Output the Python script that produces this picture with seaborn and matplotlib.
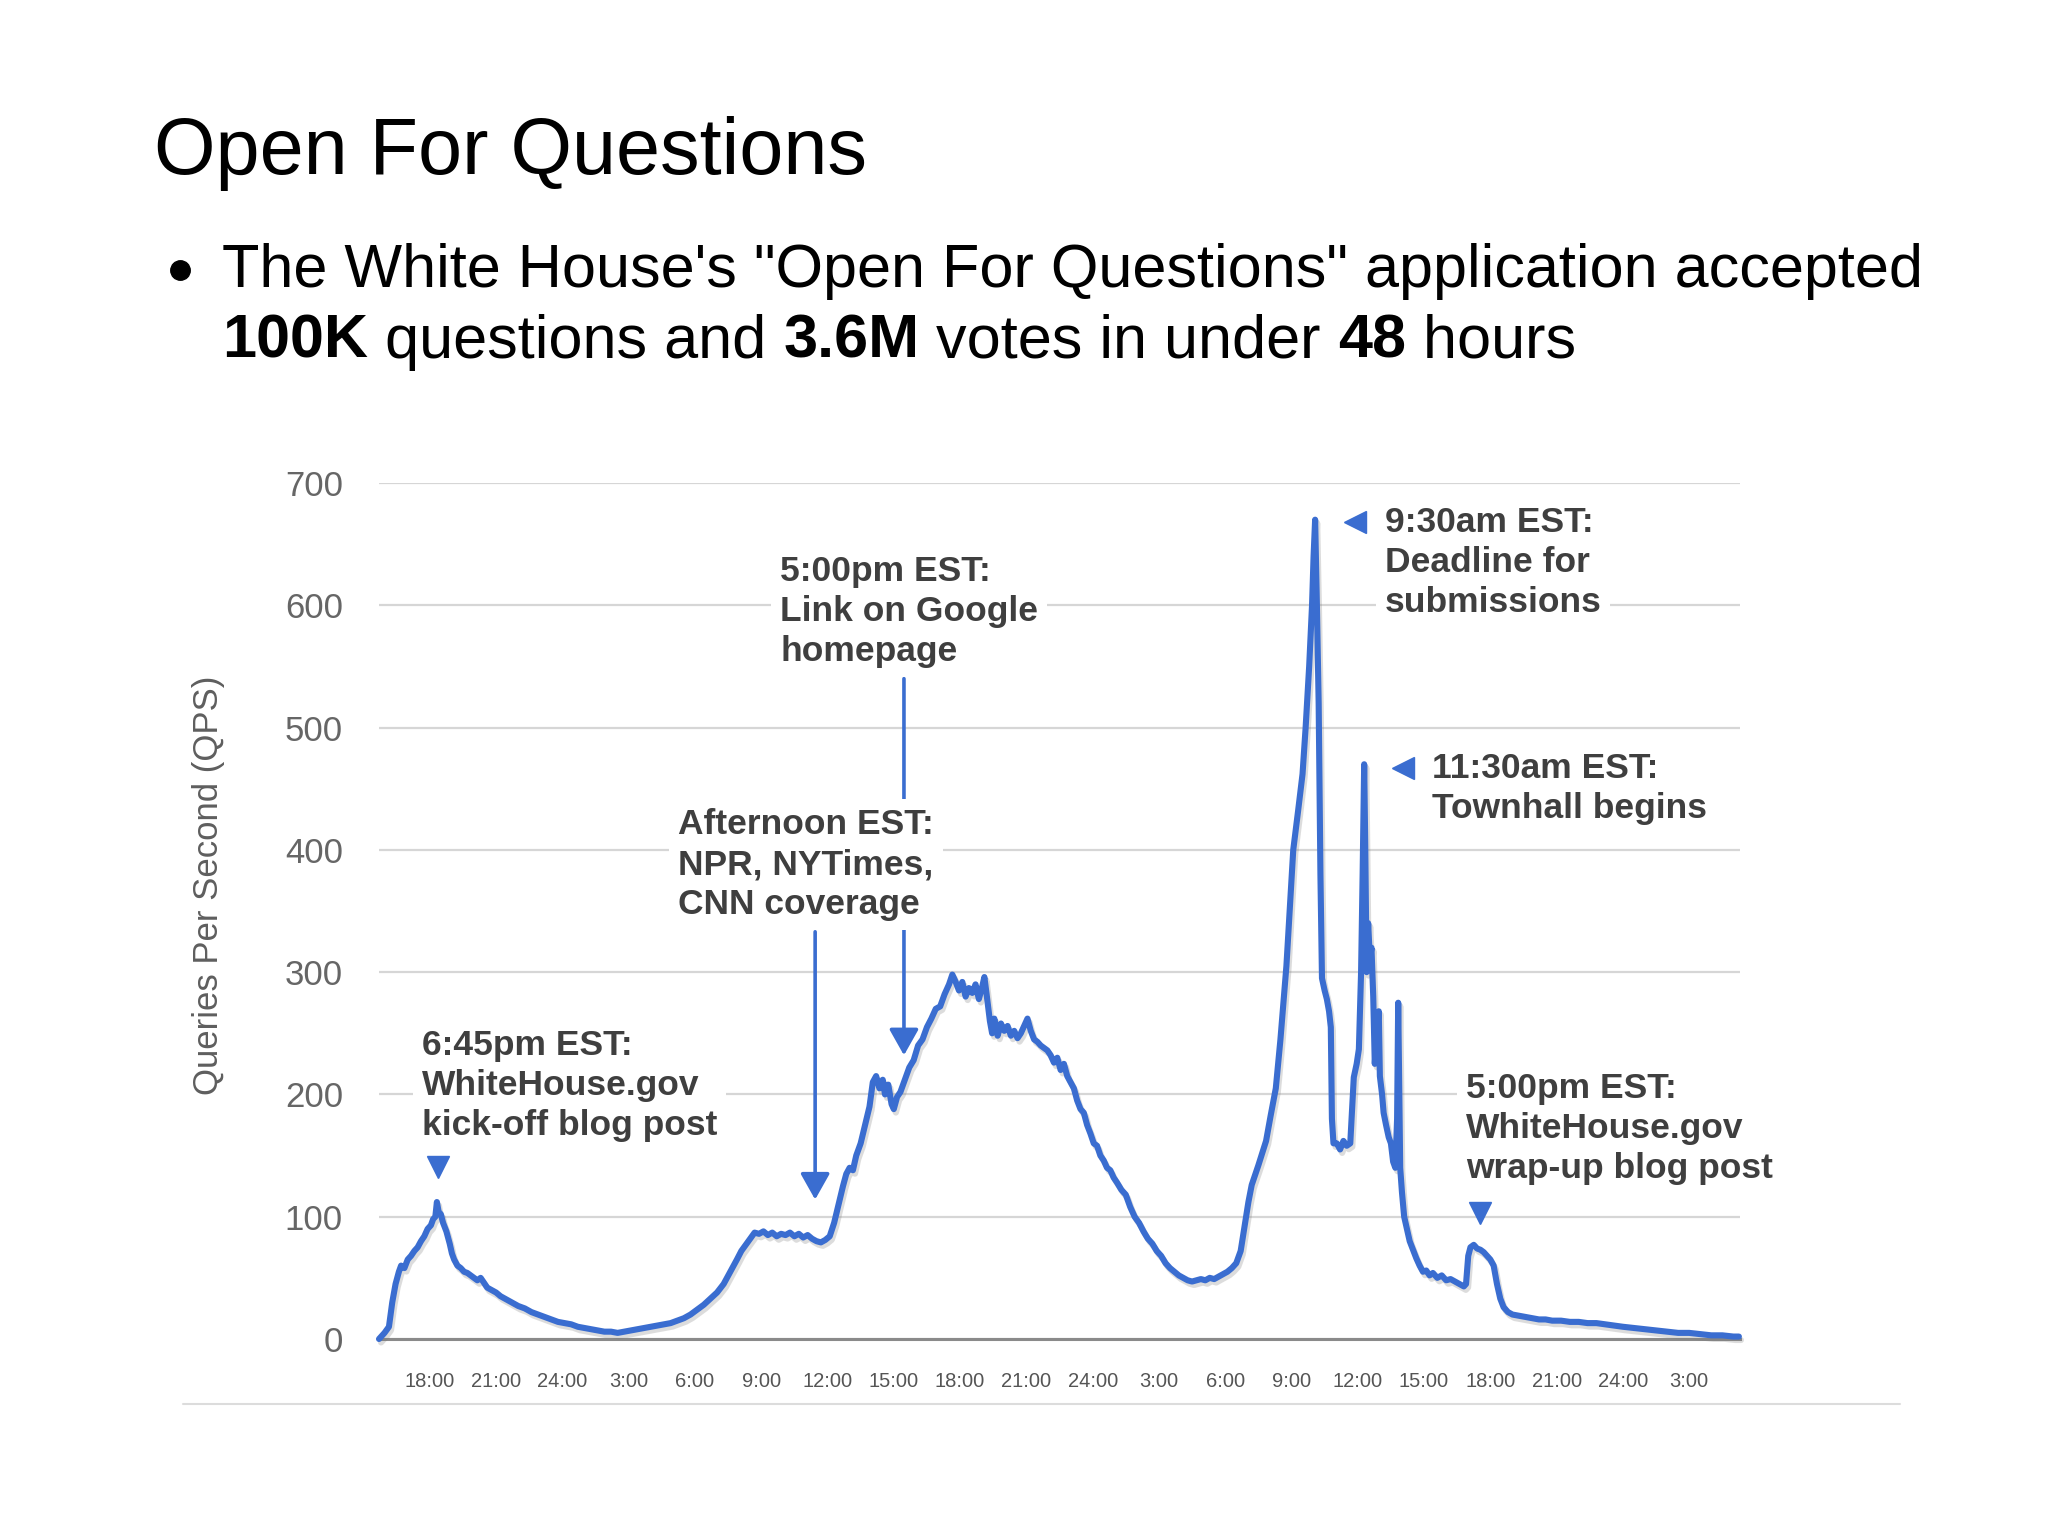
import matplotlib
matplotlib.use("Agg")
import matplotlib.pyplot as plt
import matplotlib.patheffects as pe
from matplotlib.lines import Line2D
import seaborn as sns
import pandas as pd

# ---------------- data ----------------
hours = [
    -2.30, -2.05, -1.85, -1.70, -1.55, -1.40, -1.30, -1.15, -1.00, -0.85, -0.70, -0.55, -0.40, -0.25, -0.10,
    0.05, 0.15, 0.25, 0.32, 0.40, 0.50, 0.60, 0.75, 0.90, 1.00, 1.10, 1.25, 1.40, 1.55, 1.70, 1.85, 2.00,
    2.15, 2.30, 2.45, 2.60, 2.80, 3.00, 3.20, 3.40, 3.60, 3.80, 4.00, 4.30, 4.60, 4.90, 5.20, 5.50, 5.80,
    6.10, 6.40, 6.70, 7.00, 7.30, 7.60, 7.90, 8.20, 8.50, 8.80, 9.10, 9.40, 9.70, 10.00, 10.30, 10.60,
    10.90, 11.20, 11.50, 11.80, 12.10, 12.40, 12.70, 13.00, 13.30, 13.60, 13.90, 14.10, 14.30, 14.50,
    14.70, 14.90, 15.10, 15.30, 15.50, 15.70, 15.90, 16.10, 16.30, 16.50, 16.70, 16.90, 17.10, 17.30,
    17.50, 17.70, 17.90, 18.10, 18.30, 18.50, 18.70, 18.85, 19.00, 19.15, 19.30, 19.50, 19.70, 19.90,
    20.05, 20.20, 20.35, 20.50, 20.60, 20.75, 20.90, 21.00, 21.15, 21.30, 21.50, 21.70, 21.90, 22.10,
    22.30, 22.50, 22.70, 22.90, 23.10, 23.30, 23.50, 23.65, 23.80, 23.95, 24.10, 24.25, 24.40, 24.55,
    24.70, 24.85, 25.00, 25.10, 25.20, 25.35, 25.45, 25.55, 25.70, 25.85, 26.00, 26.15, 26.30, 26.45,
    26.60, 26.75, 26.90, 27.05, 27.20, 27.35, 27.50, 27.65, 27.80, 27.95, 28.10, 28.25, 28.40, 28.55,
    28.70, 28.85, 29.00, 29.15, 29.30, 29.45, 29.60, 29.75, 29.90, 30.05, 30.20, 30.35, 30.50, 30.65,
    30.80, 30.95, 31.10, 31.30, 31.50, 31.70, 31.90, 32.10, 32.30, 32.50, 32.70, 32.90, 33.10, 33.30,
    33.50, 33.70, 33.90, 34.10, 34.30, 34.50, 34.70, 34.90, 35.10, 35.30, 35.50, 35.70, 35.90, 36.10,
    36.30, 36.50, 36.70, 36.90, 37.05, 37.20, 37.50, 37.85, 38.05, 38.29, 38.50, 38.77, 38.95, 39.08,
    39.30, 39.50, 39.64, 39.80, 39.93, 40.00, 40.07, 40.15, 40.23, 40.31, 40.38, 40.50, 40.60, 40.70,
    40.78, 40.83, 40.90, 41.05, 41.20, 41.35, 41.50, 41.66, 41.75, 41.82, 41.95, 42.05, 42.15, 42.22,
    42.29, 42.34, 42.40, 42.47, 42.55, 42.62, 42.70, 42.77, 42.85, 42.95, 43.00, 43.10, 43.17, 43.28,
    43.40, 43.50, 43.60, 43.70, 43.78, 43.83, 43.88, 43.92, 44.00, 44.10, 44.20, 44.35, 44.50, 44.65,
    44.80, 44.95, 45.10, 45.25, 45.40, 45.60, 45.80, 46.00, 46.20, 46.40, 46.60, 46.80, 46.90, 47.00,
    47.10, 47.25, 47.40, 47.55, 47.70, 47.85, 48.00, 48.15, 48.30, 48.45, 48.60, 48.80, 49.00, 49.30,
    49.60, 49.90, 50.20, 50.50, 50.80, 51.20, 51.60, 52.00, 52.40, 52.80, 53.20, 53.60, 54.00, 54.50,
    55.00, 55.50, 56.00, 56.50, 57.00, 57.50, 58.00, 58.50, 59.00, 59.25,
]
qps = [
    0, 5, 10, 30, 45, 55, 60, 58, 65, 68, 72, 75, 80, 84, 90,
    93, 98, 100, 112, 104, 102, 95, 88, 78, 70, 65, 60, 58, 55, 54, 52, 50,
    48, 50, 46, 42, 40, 38, 35, 33, 31, 29, 27, 25, 22, 20, 18, 16, 14,
    13, 12, 10, 9, 8, 7, 6, 6, 5, 6, 7, 8, 9, 10, 11, 12,
    13, 15, 17, 20, 24, 28, 33, 38, 45, 55, 65, 72, 77, 82,
    87, 86, 88, 85, 87, 84, 86, 85, 87, 84, 86, 83, 85, 82,
    80, 79, 81, 84, 95, 110, 125, 135, 140, 138, 150, 160, 175, 190,
    210, 215, 205, 212, 200, 208, 192, 188, 198, 202, 212, 222, 228, 240,
    245, 255, 262, 270, 272, 282, 290, 298, 292, 285, 292, 280, 287, 283,
    290, 278, 288, 296, 282, 260, 250, 262, 248, 258, 252, 256, 248, 252,
    246, 250, 256, 262, 252, 245, 243, 240, 238, 236, 232, 226, 230, 220,
    225, 215, 210, 205, 195, 188, 185, 175, 168, 160, 158, 150, 146, 140,
    138, 132, 128, 122, 118, 108, 100, 95, 88, 82, 78, 72, 68, 62,
    58, 55, 52, 50, 48, 47, 48, 49, 48, 50, 49, 51, 53, 55,
    58, 62, 72, 95, 112, 126, 142, 162, 182, 205, 245, 305, 360, 400,
    432, 462, 500, 550, 600, 640, 670, 600, 520, 380, 295, 285, 278, 268,
    255, 180, 160, 160, 155, 162, 158, 160, 190, 214, 225, 237, 300, 380,
    470, 400, 300, 340, 310, 320, 280, 225, 250, 268, 215, 200, 185, 175,
    165, 160, 145, 140, 180, 275, 200, 140, 120, 100, 92, 80, 73, 66,
    60, 55, 56, 52, 54, 50, 52, 48, 49, 47, 45, 43, 45, 68,
    75, 77, 74, 73, 71, 68, 65, 60, 45, 33, 26, 22, 20, 19,
    18, 17, 16, 16, 15, 15, 14, 14, 13, 13, 12, 11, 10, 9,
    8, 7, 6, 5, 5, 4, 3, 3, 2, 2,
]
tick_hours = [0, 3, 6, 9, 12, 15, 18, 21, 24, 27, 30, 33, 36, 39, 42, 45, 48, 51, 54, 57]
tick_labels = ["18:00", "21:00", "24:00", "3:00", "6:00", "9:00", "12:00", "15:00", "18:00", "21:00",
               "24:00", "3:00", "6:00", "9:00", "12:00", "15:00", "18:00", "21:00", "24:00", "3:00"]
y_ticks = [0, 100, 200, 300, 400, 500, 600, 700]

title = "Open For Questions"
bullet_line1 = "The White House's \"Open For Questions\" application accepted"
bullet_line2 = [("100K", "bold"), (" questions and ", "normal"), ("3.6M", "bold"),
                (" votes in under ", "normal"), ("48", "bold"), (" hours", "normal")]

BLUE = "#3a6dd0"
TXT = "#3f3f3f"

sns.set_theme(style="white")
plt.rcParams["font.family"] = ["Liberation Sans", "DejaVu Sans"]

W, H = 2048, 1536
fig = plt.figure(figsize=(W / 100, H / 100), dpi=100)
fig.patch.set_facecolor("white")

def fx(px):
    return px / W

def fy(py):
    return 1 - py / H

ax = fig.add_axes([fx(379), fy(1339), fx(1740) - fx(379), fy(483) - fy(1339)])
df = pd.DataFrame({"hours": hours, "qps": qps})
sns.lineplot(data=df, x="hours", y="qps", ax=ax, color=BLUE, linewidth=4.4,
             estimator=None, sort=False, zorder=5)
line = ax.lines[0]
line.set_clip_on(False)
line.set_path_effects([pe.SimpleLineShadow(offset=(1.5, -2.5), shadow_color="#777777", alpha=0.25),
                       pe.Normal()])

ax.set_xlim(-2.3, 59.3)
ax.set_ylim(0, 700)
ax.set_xticks(tick_hours)
ax.set_xticklabels(tick_labels, fontsize=14.5, color="#555555")
ax.set_yticks(y_ticks)
ax.set_yticklabels([str(v) for v in y_ticks], fontsize=25, color="#666666")
ax.tick_params(axis="both", length=0)
ax.tick_params(axis="x", pad=24)
ax.tick_params(axis="y", pad=26)
ax.set_xlabel("")
ax.set_ylabel("Queries Per Second (QPS)", fontsize=25, color="#5e5e5e")
ax.yaxis.set_label_coords(-0.113, 0.53)
for s in ["top", "right", "left"]:
    ax.spines[s].set_visible(False)
ax.spines["bottom"].set_color("#8a8a8a")
ax.spines["bottom"].set_linewidth(2.2)
ax.grid(axis="y", color="#d6d6d6", linewidth=1.6)
ax.grid(axis="x", visible=False)
ax.set_axisbelow(True)

# ---------------- annotations ----------------
box = dict(boxstyle="square,pad=0.25", facecolor="white", edgecolor="none")
ann_kw = dict(fontsize=25.5, fontweight="bold", color=TXT, ha="left", va="center",
              linespacing=1.27, bbox=box, zorder=4)

ax.text(-0.35, 207, "6:45pm EST:\nWhiteHouse.gov\nkick-off blog post", **ann_kw)
ax.plot([0.35], [141], marker="v", markersize=16, color=BLUE, clip_on=False, zorder=6)

arrow_kw = dict(arrowstyle="-|>,head_length=0.8,head_width=0.45", color=BLUE, lw=2.6,
                shrinkA=0, shrinkB=0, mutation_scale=20)
ax.annotate("", xy=(21.46, 232), xytext=(21.46, 540), arrowprops=arrow_kw, zorder=3)
ax.text(15.85, 595, "5:00pm EST:\nLink on Google\nhomepage", **ann_kw)

ax.annotate("", xy=(17.44, 114), xytext=(17.44, 333), arrowprops=arrow_kw, zorder=3)
ax.text(11.23, 388, "Afternoon EST:\nNPR, NYTimes,\nCNN coverage", **ann_kw)

ax.text(43.22, 635, "9:30am EST:\nDeadline for\nsubmissions", **ann_kw)
ax.plot([41.86], [668], marker="<", markersize=16, color=BLUE, clip_on=False, zorder=6)

ax.text(45.35, 450, "11:30am EST:\nTownhall begins", **ann_kw)
ax.plot([44.05], [467], marker="<", markersize=16, color=BLUE, clip_on=False, zorder=6)

ax.text(46.89, 172, "5:00pm EST:\nWhiteHouse.gov\nwrap-up blog post", **ann_kw)
ax.plot([47.54], [103], marker="v", markersize=16, color=BLUE, clip_on=False, zorder=6)

# ---------------- slide text ----------------
fig.text(fx(154), fy(174), title, fontsize=57, color="black", ha="left", va="baseline")
fig.add_artist(Line2D([fx(180)], [fy(270)], marker="o", markersize=14, color="black",
                      transform=fig.transFigure))
fig.text(fx(222), fy(287), bullet_line1, fontsize=44, color="black", ha="left", va="baseline")

renderer = fig.canvas.get_renderer()
xcur = fx(222)
for chunk, weight in bullet_line2:
    t = fig.text(xcur, fy(358), chunk, fontsize=44, fontweight=weight, color="black",
                 ha="left", va="baseline")
    bb = t.get_window_extent(renderer)
    xcur += bb.width / fig.bbox.width

fig.add_artist(Line2D([fx(183), fx(1900)], [fy(1404), fy(1404)], color="#dcdcdc", lw=1.5,
                      transform=fig.transFigure))

fig.savefig("out.png", dpi=100, facecolor="white")
